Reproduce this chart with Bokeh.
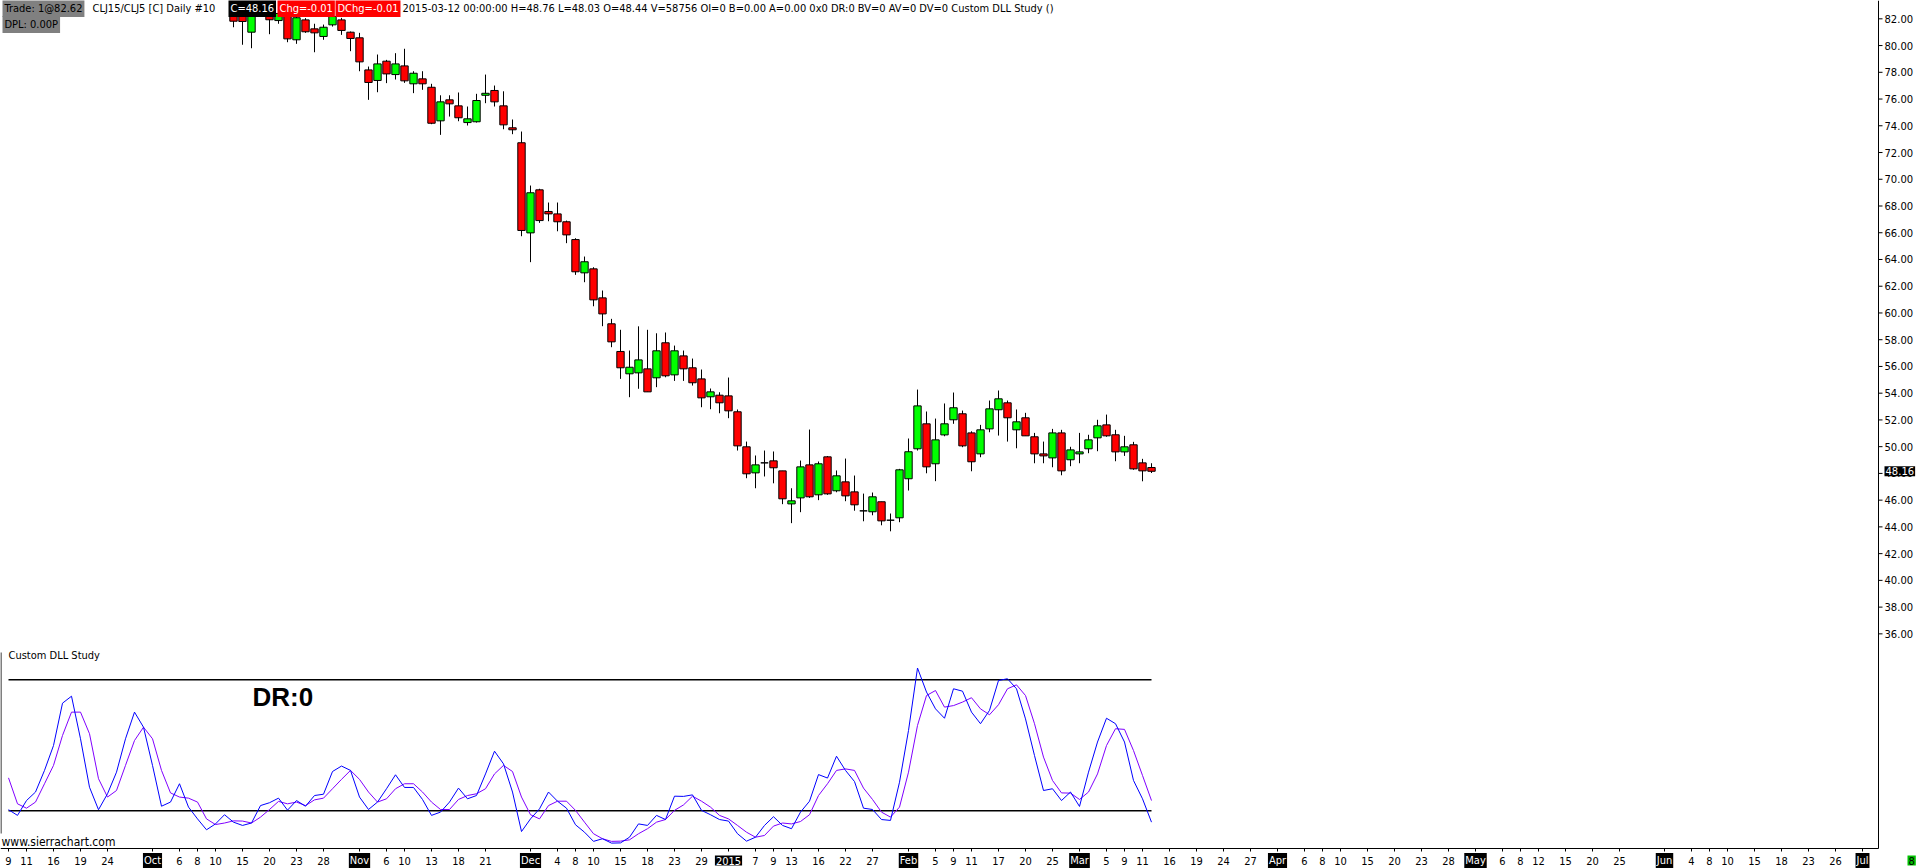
import datetime as dt
from bokeh.plotting import figure
from bokeh.models import Range1d, ColumnDataSource, Label
from bokeh.core.properties import value
from bokeh.embed import file_html
from bokeh.resources import INLINE

# ---------------- calendar ----------------
first_day = "2014-09-09"
last_day = "2015-07-10"
holidays = ["2014-11-27", "2014-12-25", "2015-01-01", "2015-01-19", "2015-02-16"]

# ---------------- tick labels ----------------
day_tick_dates = ["2014-09-09", "2014-09-11", "2014-09-16", "2014-09-19", "2014-09-24",
                  "2014-10-06", "2014-10-08", "2014-10-10", "2014-10-15", "2014-10-20", "2014-10-23", "2014-10-28",
                  "2014-11-06", "2014-11-10", "2014-11-13", "2014-11-18", "2014-11-21",
                  "2014-12-04", "2014-12-08", "2014-12-10", "2014-12-15", "2014-12-18", "2014-12-23", "2014-12-29",
                  "2015-01-07", "2015-01-09", "2015-01-13", "2015-01-16", "2015-01-22", "2015-01-27",
                  "2015-02-05", "2015-02-09", "2015-02-11", "2015-02-17", "2015-02-20", "2015-02-25",
                  "2015-03-05", "2015-03-09", "2015-03-11", "2015-03-16", "2015-03-19", "2015-03-24", "2015-03-27",
                  "2015-04-06", "2015-04-08", "2015-04-10", "2015-04-15", "2015-04-20", "2015-04-23", "2015-04-28",
                  "2015-05-06", "2015-05-08", "2015-05-12", "2015-05-15", "2015-05-20", "2015-05-25",
                  "2015-06-04", "2015-06-08", "2015-06-10", "2015-06-15", "2015-06-18", "2015-06-23", "2015-06-26"]
month_tick_dates = ["2014-10-01", "2014-11-03", "2014-12-01", "2015-01-02", "2015-02-02",
                    "2015-03-02", "2015-04-01", "2015-05-01", "2015-06-01", "2015-07-01"]
month_tick_labels = ["Oct", "Nov", "Dec", "2015", "Feb", "Mar", "Apr", "May", "Jun", "Jul"]
price_ticks = [36, 38, 40, 42, 44, 46, 48, 50, 52, 54, 56, 58, 60, 62, 64, 66, 68, 70, 72, 74, 76, 78, 80, 82]

# ---------------- daily candles CLJ15/CLJ5 (from 2014-10-14) ----------------
candle_first_date = "2014-10-14"
opens = [82.90, 82.60, 81.00, 82.90, 82.60, 81.87, 82.30, 80.43, 81.92, 81.25,
         80.68, 81.55, 81.92, 81.00, 80.58, 78.18, 77.39, 78.83, 77.83, 78.48,
         77.14, 77.51, 76.88, 74.37, 75.94, 75.49, 74.24, 74.30, 76.28, 76.64,
         75.49, 73.85, 72.73, 65.99, 69.21, 67.59, 67.41, 66.82, 65.49, 63.00,
         63.30, 61.13, 59.19, 57.12, 55.45, 55.52, 55.82, 55.15, 57.77, 55.37,
         56.79, 55.90, 55.07, 53.73, 53.85, 53.80, 52.61, 49.99, 48.04, 48.79,
         48.94, 48.19, 45.72, 46.17, 48.64, 46.40, 49.24, 46.70, 47.37, 46.62,
         45.20, 45.13, 45.88, 44.50, 44.68, 47.60, 49.84, 51.71, 48.72, 50.88,
         52.01, 52.46, 51.03, 49.46, 51.33, 52.76, 53.28, 51.26, 52.16, 50.74,
         49.46, 49.16, 51.03, 49.02, 49.46, 49.84, 50.66, 51.63, 50.89, 49.61,
         50.14, 48.79, 48.44]
highs = [83.20, 82.90, 82.80, 83.20, 83.00, 82.80, 82.60, 82.30, 82.05, 81.63,
         81.57, 82.32, 82.07, 81.05, 80.95, 78.43, 79.33, 78.93, 79.43, 79.76,
         78.08, 78.08, 77.14, 76.28, 76.28, 76.49, 75.44, 76.39, 77.83, 77.01,
         76.58, 74.47, 73.57, 69.53, 69.29, 68.26, 68.26, 66.91, 65.59, 64.22,
         63.42, 61.68, 59.56, 58.74, 57.19, 59.00, 58.74, 58.48, 58.54, 57.56,
         57.19, 56.59, 55.77, 54.35, 54.07, 55.17, 52.78, 50.38, 49.34, 49.71,
         49.64, 48.19, 46.89, 48.96, 51.28, 48.89, 49.30, 48.22, 49.11, 47.84,
         46.49, 46.57, 45.88, 45.00, 48.34, 50.61, 54.27, 52.63, 52.10, 53.23,
         54.05, 52.70, 51.15, 51.63, 53.45, 54.20, 53.45, 52.78, 52.53, 51.03,
         50.38, 51.33, 51.26, 49.99, 51.03, 50.89, 52.01, 52.40, 51.26, 50.81,
         50.36, 49.09, 48.76]
lows = [81.37, 80.06, 79.80, 82.30, 80.85, 81.63, 80.25, 80.13, 80.95, 79.50,
        80.43, 81.42, 80.80, 79.58, 78.08, 75.94, 76.51, 77.19, 77.46, 77.21,
        76.44, 76.69, 74.12, 73.32, 74.69, 74.34, 74.02, 74.24, 75.69, 75.44,
        73.74, 73.37, 65.74, 63.80, 66.74, 66.86, 66.11, 65.22, 62.85, 62.30,
        60.50, 59.01, 57.44, 55.07, 53.70, 54.33, 54.10, 54.45, 55.19, 54.92,
        54.92, 54.57, 52.95, 52.80, 52.50, 52.13, 49.71, 47.64, 46.89, 47.77,
        47.26, 45.70, 44.28, 45.10, 46.17, 46.00, 46.40, 46.59, 45.92, 45.21,
        44.42, 44.87, 44.12, 43.67, 44.35, 46.72, 49.71, 48.01, 47.42, 50.78,
        51.71, 49.96, 48.16, 49.21, 51.08, 50.83, 50.38, 49.88, 50.81, 48.76,
        48.76, 48.46, 47.86, 48.54, 48.76, 49.51, 49.66, 50.74, 48.91, 49.31,
        48.27, 47.41, 48.03]
closes = [81.82, 81.80, 82.50, 82.50, 81.93, 82.40, 80.50, 82.08, 81.03, 80.95,
          81.37, 82.17, 81.13, 80.53, 78.78, 77.24, 78.63, 77.88, 78.63, 77.36,
          77.93, 77.14, 74.19, 75.79, 75.64, 74.60, 74.52, 75.89, 76.43, 75.79,
          74.07, 73.70, 66.17, 68.99, 66.91, 67.41, 66.82, 65.84, 63.08, 63.83,
          60.98, 59.93, 57.84, 55.90, 55.94, 56.49, 54.10, 57.17, 55.30, 57.17,
          55.82, 54.78, 53.65, 54.10, 53.28, 52.68, 50.06, 47.97, 48.64, 48.79,
          48.42, 46.10, 45.95, 48.49, 46.25, 48.72, 46.47, 47.82, 46.32, 45.65,
          45.20, 46.25, 44.45, 44.50, 48.27, 49.62, 53.05, 48.49, 50.51, 51.71,
          52.91, 50.06, 48.87, 51.26, 52.83, 53.58, 52.16, 51.86, 50.81, 49.46,
          49.31, 51.03, 48.19, 49.76, 49.61, 50.51, 51.56, 50.81, 49.61, 49.99,
          48.34, 48.19, 48.16]

# ---------------- Custom DLL Study (from 2014-09-09) ----------------
study_fast = [20.5, 17.9, 24.7, 28.6, 38.5, 49.9, 69.3, 72.5, 53.0, 30.8,
              20.5, 27.8, 37.7, 53.0, 65.2, 58.3, 40.8, 22.1, 24.0, 32.4,
              21.7, 16.3, 11.3, 14.0, 18.2, 14.8, 13.3, 14.4, 22.4, 23.7,
              25.8, 20.3, 24.7, 22.1, 27.0, 27.6, 38.0, 40.5, 38.5, 26.3,
              20.6, 24.0, 30.1, 36.5, 30.7, 30.7, 25.2, 17.9, 19.4, 24.0,
              30.4, 25.5, 27.0, 36.9, 47.3, 41.5, 28.6, 10.5, 16.3, 20.9,
              28.6, 24.4, 21.2, 13.6, 10.2, 6.0, 7.2, 5.2, 5.3, 7.9,
              14.0, 13.3, 17.9, 16.0, 26.7, 26.6, 27.3, 20.2, 18.2, 16.0,
              15.3, 9.5, 6.1, 7.9, 13.3, 17.3, 13.3, 11.8, 19.4, 24.4,
              36.6, 35.0, 45.0, 38.5, 33.4, 21.2, 20.6, 16.0, 15.6, 33.1,
              56.8, 85.4, 74.4, 66.7, 62.4, 75.9, 74.8, 65.2, 59.9, 66.0,
              79.7, 80.5, 75.9, 62.1, 45.3, 29.3, 30.1, 24.7, 28.6, 22.0,
              37.7, 51.5, 62.4, 59.9, 51.5, 33.9, 25.5, 14.8]
study_slow = [35.1, 23.2, 21.2, 24.0, 32.4, 40.8, 54.5, 65.2, 65.2, 55.3,
              34.7, 26.3, 29.3, 40.8, 52.2, 58.3, 53.0, 38.5, 28.2, 26.3,
              25.8, 24.0, 16.3, 13.7, 14.4, 15.4, 15.3, 14.4, 17.1, 20.6,
              24.3, 23.2, 24.0, 22.4, 25.0, 25.8, 30.1, 34.4, 38.5, 34.4,
              28.6, 24.0, 25.5, 30.1, 32.4, 32.4, 28.6, 24.0, 20.6, 20.6,
              25.2, 27.0, 27.8, 30.1, 36.9, 40.8, 38.0, 26.3, 18.2, 16.3,
              22.4, 24.4, 24.4, 20.2, 14.8, 9.5, 7.2, 6.0, 6.1, 6.7,
              9.5, 11.8, 14.8, 16.0, 20.2, 22.7, 26.7, 24.4, 21.7, 17.9,
              16.3, 13.3, 10.2, 7.9, 8.7, 13.0, 14.4, 14.0, 15.1, 18.2,
              27.0, 32.4, 38.5, 39.2, 38.5, 30.4, 25.2, 19.4, 17.1, 21.7,
              37.7, 59.1, 72.8, 75.1, 67.5, 68.2, 69.8, 71.8, 66.7, 64.0,
              68.6, 75.9, 77.7, 72.8, 59.9, 44.6, 33.9, 28.2, 28.1, 25.2,
              28.6, 36.9, 49.9, 57.6, 57.3, 47.6, 36.2, 24.7]
study_levels = [80, 20]
last_price = 48.16
bars_left = "8"

# ---------------- build trading-day index ----------------
hol = {dt.date.fromisoformat(h) for h in holidays}
d = dt.date.fromisoformat(first_day)
end = dt.date.fromisoformat(last_day)
days = []
while d <= end:
    if d.weekday() < 5 and d not in hol:
        days.append(d)
    d += dt.timedelta(days=1)
day_index = {dd.isoformat(): i for i, dd in enumerate(days)}

c0 = day_index[candle_first_date]
cx = list(range(c0, c0 + len(opens)))
body_top = [max(o, c) for o, c in zip(opens, closes)]
body_bot = [min(o, c) for o, c in zip(opens, closes)]
body_col = ["#00FF00" if c > o else "#FF0000" for o, c in zip(opens, closes)]
csrc = ColumnDataSource(dict(x=cx, top=body_top, bottom=body_bot, high=highs, low=lows, color=body_col))

s0 = day_index[first_day]
sx = list(range(s0, s0 + len(study_fast)))

day_ticks = [day_index[t] for t in day_tick_dates]
day_labels = [str(dt.date.fromisoformat(t).day) for t in day_tick_dates]
month_ticks = [day_index[t] for t in month_tick_dates]
all_ticks = sorted(day_ticks + month_ticks)

# ---------------- figure ----------------
# "px"/"py" ranges are a pixel layout grid of the whole canvas
W, H = 1916, 868
p = figure(width=W, height=H, output_backend="svg", toolbar_location=None,
           x_range=Range1d(-0.889, 212.0), y_range=Range1d(18.45, 83.37),
           x_axis_location=None, y_axis_location=None, min_border=0)
p.extra_x_ranges = {"px": Range1d(0, W)}
p.extra_y_ranges = {"osc": Range1d(-6.43, 391.2), "py": Range1d(H, 0)}
p.grid.visible = False
p.outline_line_color = None
p.background_fill_color = "white"
p.border_fill_color = "white"

SMALL = "'DejaVu Sans Condensed', 'Liberation Sans Narrow', sans-serif"
AX_X, AX_Y = 1878, 848

# candles
p.segment(x0="x", y0="low", x1="x", y1="high", source=csrc, line_color="black", line_width=1)
p.vbar(x="x", width=0.82, top="top", bottom="bottom", source=csrc,
       fill_color="color", line_color="black", line_width=1)

# study
p.segment(x0=sx[0], x1=sx[-1], y0=study_levels, y1=study_levels, y_range_name="osc",
          line_color="black", line_width=1.5)
p.line(sx, study_slow, y_range_name="osc", line_color="#8000FF", line_width=1)
p.line(sx, study_fast, y_range_name="osc", line_color="#0000FF", line_width=1)
p.segment(x0=0.5, x1=0.5, y0=652, y1=833, x_range_name="px", y_range_name="py",
          line_color="black", line_width=1)

# right price axis
p.segment(x0=AX_X, x1=AX_X, y0=0, y1=AX_Y, x_range_name="px", y_range_name="py",
          line_color="black", line_width=1)
p.segment(x0=AX_X, x1=AX_X + 4, y0=price_ticks, y1=price_ticks, x_range_name="px",
          line_color="black", line_width=1)
p.text(x=AX_X + 6, y=price_ticks, text=[f"{t:.2f}" for t in price_ticks], x_range_name="px",
       text_font=value("DejaVu Sans"), text_font_size="10px", text_color="black",
       text_align="left", text_baseline="middle")

# bottom date axis
p.segment(x0=0, x1=AX_X, y0=AX_Y, y1=AX_Y, x_range_name="px", y_range_name="py",
          line_color="black", line_width=1)
p.segment(x0=all_ticks, x1=all_ticks, y0=AX_Y, y1=AX_Y + 3, y_range_name="py",
          line_color="black", line_width=1)
p.text(x=day_ticks, y=AX_Y + 12, text=day_labels, y_range_name="py",
       text_font=value(SMALL), text_font_size="11px", text_color="black",
       text_align="center", text_baseline="middle")
for t, lab in zip(month_ticks, month_tick_labels):
    p.add_layout(Label(x=t, y=AX_Y + 12, y_range_name="py", text=lab,
                       text_font=SMALL, text_font_size="11px", text_color="white",
                       text_align="center", text_baseline="middle",
                       background_fill_color="black", padding=1))

# study texts
p.add_layout(Label(x=8, y=655, x_range_name="px", y_range_name="py", text="Custom DLL Study",
                   text_font=SMALL, text_font_size="11px", text_color="black", text_baseline="middle"))
p.add_layout(Label(x=252, y=696, x_range_name="px", y_range_name="py", text="DR:0",
                   text_font="Liberation Sans", text_font_style="bold", text_font_size="26px",
                   text_color="black", text_baseline="middle"))
p.add_layout(Label(x=1, y=841, x_range_name="px", y_range_name="py", text="www.sierrachart.com",
                   text_font=SMALL, text_font_size="12px", text_color="black", text_baseline="middle"))

# header
hdr = [
    (2, 8, "Trade: 1@82.62", "black", "#808080"),
    (92, 8, "CLJ15/CLJ5 [C]  Daily  #10", "black", None),
    (228, 8, "C=48.16", "white", "black"),
    (277, 8, "Chg=-0.01", "white", "#FF0000"),
    (335, 8, "DChg=-0.01", "white", "#FF0000"),
    (402, 8, "2015-03-12 00:00:00 H=48.76 L=48.03 O=48.44 V=58756 OI=0 B=0.00 A=0.00 0x0 DR:0 BV=0 AV=0 DV=0 Custom DLL Study   ()", "black", None),
    (2, 24, "DPL: 0.00P", "black", "#808080"),
]
for hx, hy, txt, col, bg in hdr:
    kw = dict(background_fill_color=bg, padding=2) if bg else {}
    p.add_layout(Label(x=hx, y=hy, x_range_name="px", y_range_name="py", text=txt,
                       text_font=SMALL, text_font_size="11px", text_color=col,
                       text_baseline="middle", **kw))

# last price marker on the axis, and bar-countdown box
p.add_layout(Label(x=AX_X + 6, y=last_price, x_range_name="px", text=f"{last_price:.2f}",
                   text_font="DejaVu Sans", text_font_size="10px", text_color="white",
                   text_baseline="middle", background_fill_color="black", padding=1))
p.add_layout(Label(x=1907, y=AX_Y + 12, x_range_name="px", y_range_name="py", text=bars_left,
                   text_font=SMALL, text_font_size="11px", text_color="black",
                   text_baseline="middle", background_fill_color="#00C000", padding=1))

open("out.html", "w").write(file_html(p, INLINE))
